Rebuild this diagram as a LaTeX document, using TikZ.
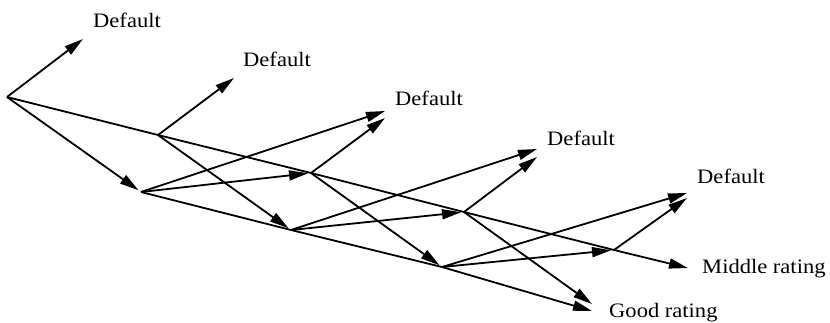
\documentclass[tikz,border=0pt]{standalone}
\usepackage{fontspec}
\setmainfont{Liberation Serif}[FakeStretch=1.1]
\usetikzlibrary{arrows.meta}
\begin{document}
\begin{tikzpicture}[x=1pt,y=-1pt,
  conn/.style={line width=1.8pt,line join=round},
  arr/.style={conn,-{Triangle[length=19pt,width=10pt]}},
  arrin/.style={arr,shorten >=3pt},
  lbl/.style={anchor=base west,inner sep=0pt,font=\fontsize{20.5}{24}\selectfont}]
\useasboundingbox (0,0) rectangle (830,322);
% branch points
\coordinate (m0) at (7,97);
\coordinate (m1) at (158,135);
\coordinate (m2) at (311,173);
\coordinate (m3) at (464,212);
\coordinate (m4) at (614,250);
\coordinate (mend) at (688,268);
\coordinate (g1) at (141,192);
\coordinate (g2) at (291,230);
\coordinate (g3) at (442,267);
\coordinate (gend) at (592,311);
\coordinate (gup) at (592,304);
% default tips
\coordinate (d1) at (83,39);
\coordinate (d2) at (234,78);
\coordinate (d3a) at (385,111);
\coordinate (d3b) at (385,118);
\coordinate (d4a) at (537,149);
\coordinate (d4b) at (537,157);
\coordinate (d5a) at (687,193);
\coordinate (d5b) at (687,198);
% labels
\node[lbl] (def1) at (93,27) {Default};
\node[lbl] (def2) at (243,66) {Default};
\node[lbl] (def3) at (395,105) {Default};
\node[lbl] (def4) at (547,145) {Default};
\node[lbl] (def5) at (697,183) {Default};
\node[lbl] (mid) at (702,273) {Middle rating};
\node[lbl] (good) at (609,317) {Good rating};
% middle rating line
\draw[arr] (m0) -- (m1) -- (m2) -- (m3) -- (m4) -- (mend);
% good rating line
\draw[arr] (g1) -- (g2) -- (g3) -- (gend);
% from middle nodes
\draw[arr] (m0) -- (d1);
\draw[arrin] (m0) -- (g1);
\draw[arr] (m1) -- (d2);
\draw[arrin] (m1) -- (g2);
\draw[arr] (m2) -- (d3b);
\draw[arrin] (m2) -- (g3);
\draw[arr] (m3) -- (d4b);
\draw[arr] (m3) -- (gup);
\draw[arr] (m4) -- (d5b);
% from good nodes
\draw[arr] (g1) -- (d3a);
\draw[arrin] (g1) -- (m2);
\draw[arr] (g2) -- (d4a);
\draw[arrin] (g2) -- (m3);
\draw[arr] (g3) -- (d5a);
\draw[arrin] (g3) -- (m4);
\end{tikzpicture}
\end{document}
